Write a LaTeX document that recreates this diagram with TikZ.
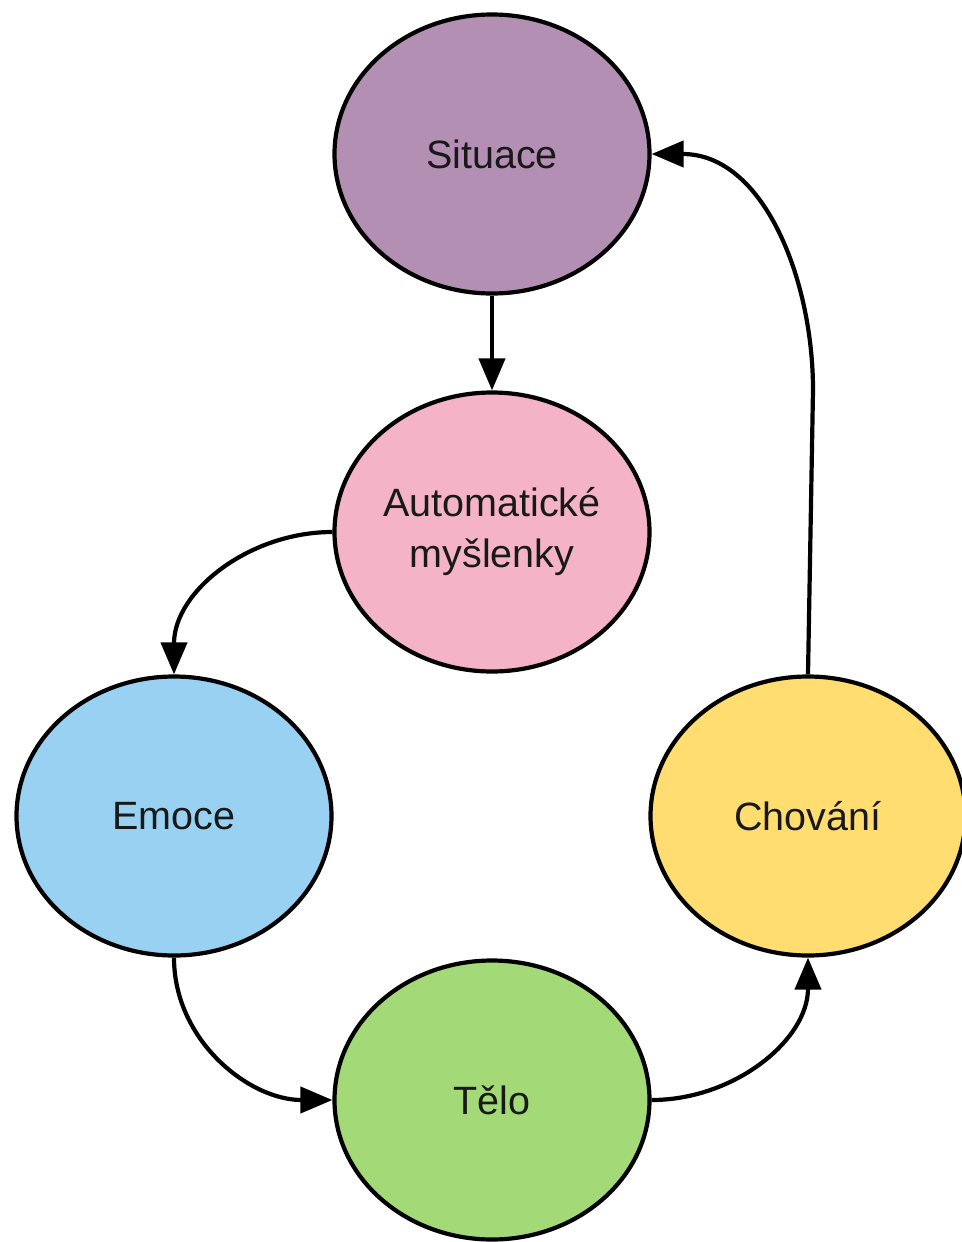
\documentclass[tikz,border=0pt]{standalone}
\usepackage{fontspec}
\setmainfont{Liberation Sans}
\usetikzlibrary{shapes.geometric,arrows.meta}
\definecolor{csit}{HTML}{B38FB3}
\definecolor{caut}{HTML}{F4B3C7}
\definecolor{cemo}{HTML}{99D1F2}
\definecolor{ccho}{HTML}{FFDD71}
\definecolor{ctel}{HTML}{A3D977}
\tikzset{
  blob/.style={ellipse, draw=black, line width=4.2pt, minimum width=315pt, minimum height=279pt, inner sep=0pt,
    font=\fontsize{39.5}{51}\selectfont, align=center, text=black!90},
  conn/.style={line width=4.2pt, -{Triangle[length=32pt,width=26pt]}}
}
\begin{document}
\begin{tikzpicture}[x=1pt,y=-1pt]
\useasboundingbox (0,0) rectangle (961,1242);
\node[blob, fill=csit] (sit) at (492,154) {Situace};
\node[blob, fill=caut] (aut) at (492,532) {Automatické\\myšlenky};
\node[blob, fill=cemo] (emo) at (174,816) {Emoce};
\node[blob, fill=ccho] (cho) at (808,816) {Chování};
\node[blob, fill=ctel] (tel) at (492,1100) {Tělo};
\coordinate (bend) at (813,390);
\draw[conn] (sit.south) -- (aut.north);
\draw[conn] (aut.west) to[out=180,in=90] (emo.north);
\draw[conn] (emo.south) to[out=-90,in=180] (tel.west);
\draw[conn] (tel.east) to[out=0,in=-90] (cho.south);
\draw[conn] (cho.north) -- (bend) to[out=90,in=0] (sit.east);
\end{tikzpicture}
\end{document}
